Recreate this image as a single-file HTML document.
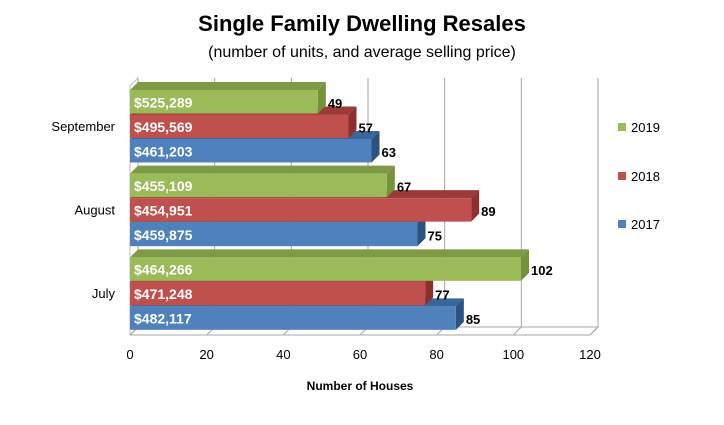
<!DOCTYPE html>
<html><head><meta charset="utf-8"><style>
body{margin:0;background:#fff;}
svg{font-family:"Liberation Sans",Arial,sans-serif;}
</style></head><body>
<svg id="c" width="724" height="420">
<text x="362" y="31" text-anchor="middle" font-size="22" font-weight="bold">Single Family Dwelling Resales</text>
<text x="362" y="57" text-anchor="middle" font-size="16">(number of units, and average selling price)</text>
<text x="360" y="390" text-anchor="middle" font-size="12" font-weight="bold">Number of Houses</text>
<g id="grid"></g><g id="bars"></g><g id="labels"></g><g id="legend"></g>
</svg>
<script>
const categories=["September","August","July"];
const seriesNames=["2019","2018","2017"];
const units2019=[49,67,102];
const units2018=[57,89,77];
const units2017=[63,75,85];
const price2019=["$525,289","$455,109","$464,266"];
const price2018=["$495,569","$454,951","$471,248"];
const price2017=["$461,203","$459,875","$482,117"];
const ticks=[0,20,40,60,80,100,120];
{
const NS="http://www.w3.org/2000/svg";
const x0=130,x1=590,xmax=120,yTop=84,yBottom=335,D=8;
const xs=v=>x0+v*(x1-x0)/xmax;
const band=(yBottom-yTop)/categories.length;
function mk(t,a,p){const e=document.createElementNS(NS,t);for(const k in a)e.setAttribute(k,a[k]);p.appendChild(e);return e;}
const grid=document.getElementById('grid'),bars=document.getElementById('bars'),labs=document.getElementById('labels'),leg=document.getElementById('legend');
const lw=mk('polygon',{points:`${x0},${yTop+2} ${x0+D},${yTop-6} ${x0+D},${yBottom-D} ${x0},${yBottom}`,fill:'#fff',stroke:'#bfbfbf'},grid);


ticks.forEach(t=>{const x=xs(t);
 const g=mk('polyline',{points:`${x},${yBottom} ${x+D},${yBottom-D} ${x+D},${yTop-6}`,fill:'none',stroke:'#a6a6a6'},grid);
 
 
 const l=mk('text',{x:x,y:359,'text-anchor':'middle','font-size':13},grid);l.textContent=t;
 
 });
const fl=mk('polyline',{points:`${x0},${yBottom} ${x1},${yBottom} ${x1+D},${yBottom-D} ${x0+D},${yBottom-D}`,fill:'none',stroke:'#a6a6a6'},grid);


const cols=[["#9bbb59","#76923c","#7e9a44"],["#c0504d","#8c2f2d","#9a3b38"],["#4f81bd","#2c5282","#3a6699"]];
const units=[units2019,units2018,units2017],prices=[price2019,price2018,price2017];
const bh=24.5;
categories.forEach((c,i)=>{const by=yTop+i*band;
 const cl=mk('text',{x:115,y:by+band/2+5,'text-anchor':'end','font-size':13},grid);cl.textContent=c;
 
 
 for(let s=2;s>=0;s--){const y=by+6+s*bh,xe=xs(units[s][i]),h=bh-1;const col=cols[s];
  const g=mk('g',{},bars);
  
  
  mk('polygon',{points:`${x0},${y} ${x0+D},${y-D} ${xe+D},${y-D} ${xe},${y}`,fill:col[2]},g);
  mk('polygon',{points:`${xe},${y} ${xe+D},${y-D} ${xe+D},${y+h-D} ${xe},${y+h}`,fill:col[1]},g);
  mk('rect',{x:x0,y:y,width:xe-x0,height:h,fill:col[0]},g);
  const p=mk('text',{x:x0+4,y:y+h/2+5.5,'font-size':14,'font-weight':'bold',fill:'#fff'},labs);p.textContent=prices[s][i];
  
  
  const v=mk('text',{x:xe+D+2,y:y+h/2+6,'font-size':13,'font-weight':'bold'},labs);v.textContent=units[s][i];
  
  }
});
[131,180,228].forEach((y,s)=>{const g=mk('g',{},leg);
 
 
 mk('rect',{x:618,y:y-8,width:8,height:8,fill:cols[s][0]},g);
 const t=mk('text',{x:631,y:y+1,'font-size':13},g);t.textContent=seriesNames[s];});
}
</script>
</body></html>
